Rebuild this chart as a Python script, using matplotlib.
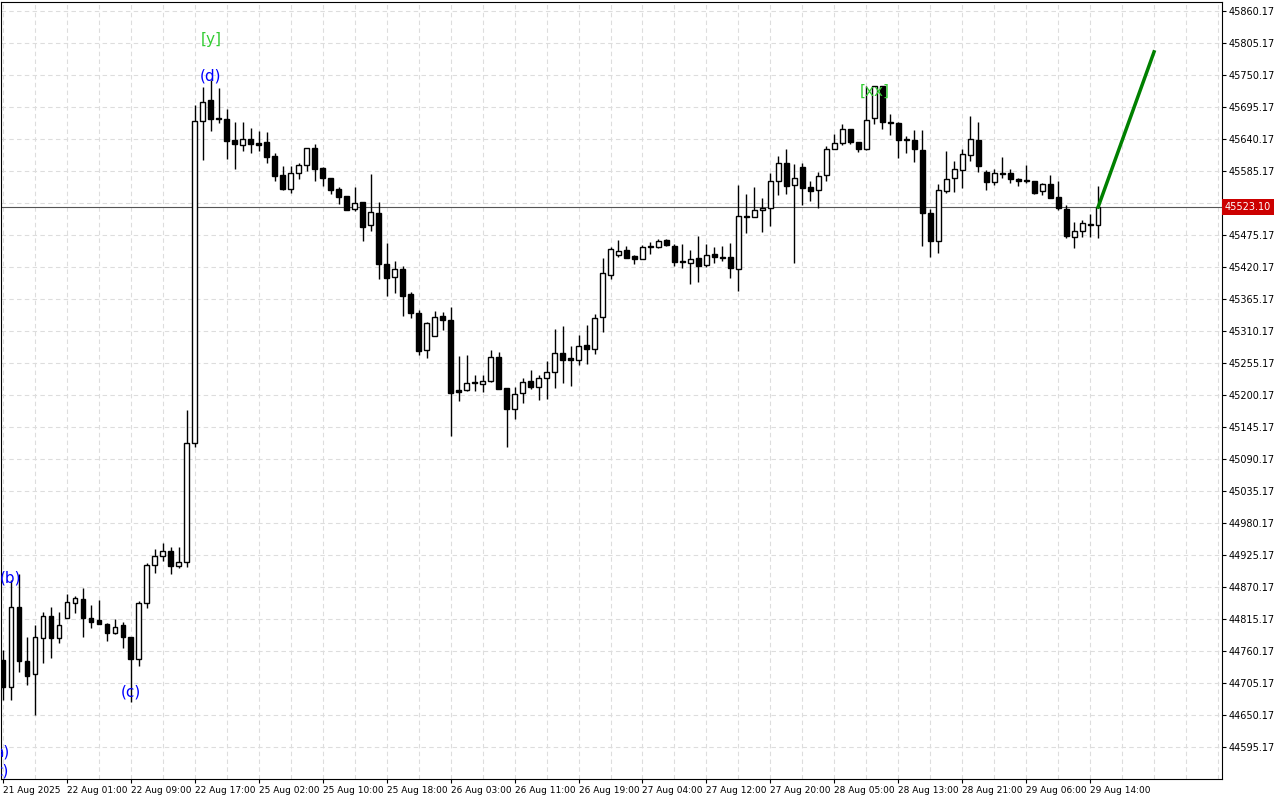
import numpy as np
import matplotlib.pyplot as plt

# hourly candles
opens = [44745, 44698, 44836, 44743, 44721, 44782, 44820, 44782, 44817, 44843, 44849, 44817, 44813, 44806, 44791, 44805,
         44784, 44746, 44843, 44908, 44923, 44932, 44906, 44913, 45118, 45671, 45707, 45676, 45675, 45638, 45630, 45640,
         45633, 45635, 45611, 45578, 45554, 45582, 45595, 45625, 45590, 45573, 45554, 45542, 45520, 45532, 45492, 45513,
         45425, 45403, 45417, 45374, 45341, 45277, 45302, 45336, 45329, 45209, 45209, 45221, 45219, 45224, 45265, 45212,
         45176, 45204, 45224, 45214, 45229, 45240, 45272, 45264, 45260, 45286, 45279, 45334, 45406, 45441, 45449, 45439,
         45434, 45454, 45454, 45467, 45456, 45430, 45427, 45436, 45424, 45442, 45437, 45437, 45417, 45508, 45506, 45518,
         45522, 45568, 45599, 45561, 45592, 45558, 45552, 45578, 45623, 45633, 45657, 45635, 45623, 45676, 45731, 45669,
         45668, 45638, 45638, 45621, 45513, 45465, 45551, 45573, 45587, 45613, 45638, 45583, 45566, 45582, 45582, 45571,
         45568, 45568, 45551, 45563, 45540, 45520, 45472, 45482, 45492, 45492]
highs = [44762, 44882, 44892, 44784, 44805, 44827, 44836, 44827, 44858, 44855, 44868, 44839, 44848, 44808, 44815, 44810,
         44784, 44846, 44911, 44935, 44946, 44939, 44939, 45174, 45699, 45730, 45742, 45728, 45692, 45669, 45669, 45659,
         45654, 45652, 45616, 45594, 45594, 45599, 45625, 45631, 45592, 45573, 45558, 45542, 45558, 45532, 45580, 45532,
         45461, 45430, 45422, 45377, 45346, 45326, 45345, 45343, 45351, 45267, 45269, 45235, 45235, 45277, 45274, 45212,
         45214, 45229, 45243, 45235, 45259, 45314, 45319, 45284, 45303, 45320, 45339, 45436, 45455, 45467, 45456, 45441,
         45458, 45463, 45468, 45468, 45460, 45460, 45449, 45473, 45460, 45454, 45456, 45461, 45561, 45546, 45558, 45539,
         45582, 45611, 45623, 45597, 45599, 45568, 45583, 45628, 45649, 45666, 45657, 45635, 45731, 45731, 45731, 45683,
         45669, 45645, 45656, 45656, 45520, 45563, 45620, 45602, 45623, 45680, 45669, 45587, 45588, 45609, 45588, 45573,
         45595, 45568, 45564, 45578, 45568, 45527, 45497, 45501, 45511, 45559]
lows = [44676, 44676, 44724, 44702, 44650, 44739, 44748, 44774, 44817, 44825, 44784, 44800, 44806, 44777, 44789, 44765,
        44672, 44734, 44834, 44894, 44915, 44892, 44903, 44904, 45110, 45604, 45654, 45668, 45606, 45588, 45620, 45616,
        45620, 45599, 45568, 45552, 45547, 45571, 45585, 45568, 45559, 45546, 45528, 45518, 45516, 45465, 45482, 45400,
        45370, 45375, 45336, 45332, 45269, 45264, 45302, 45312, 45130, 45190, 45207, 45207, 45205, 45222, 45210, 45111,
        45159, 45186, 45210, 45192, 45193, 45212, 45221, 45216, 45252, 45253, 45271, 45308, 45400, 45437, 45436, 45425,
        45434, 45442, 45453, 45456, 45422, 45418, 45391, 45394, 45420, 45427, 45430, 45401, 45379, 45479, 45506, 45480,
        45491, 45544, 45546, 45427, 45527, 45534, 45522, 45568, 45623, 45630, 45632, 45618, 45621, 45666, 45657, 45647,
        45607, 45616, 45601, 45456, 45437, 45444, 45547, 45549, 45556, 45602, 45583, 45552, 45561, 45573, 45564, 45559,
        45564, 45546, 45544, 45539, 45518, 45470, 45453, 45472, 45472, 45470]
closes = [44698, 44836, 44743, 44717, 44784, 44820, 44782, 44805, 44844, 44851, 44817, 44810, 44806, 44791, 44801, 44784,
          44746, 44843, 44908, 44923, 44932, 44906, 44913, 45118, 45671, 45704, 45675, 45675, 45637, 45632, 45640, 45632,
          45630, 45609, 45576, 45554, 45582, 45595, 45625, 45588, 45573, 45552, 45540, 45518, 45530, 45489, 45515, 45425,
          45401, 45417, 45370, 45341, 45276, 45324, 45334, 45329, 45204, 45205, 45221, 45221, 45224, 45265, 45210, 45176,
          45202, 45222, 45214, 45229, 45240, 45272, 45260, 45260, 45284, 45279, 45332, 45410, 45451, 45448, 45436, 45434,
          45454, 45454, 45465, 45458, 45429, 45429, 45434, 45422, 45441, 45437, 45436, 45418, 45508, 45506, 45518, 45522,
          45568, 45599, 45559, 45573, 45556, 45551, 45576, 45623, 45633, 45657, 45635, 45623, 45673, 45731, 45669, 45668,
          45638, 45638, 45623, 45513, 45465, 45552, 45571, 45588, 45614, 45640, 45594, 45566, 45582, 45580, 45571, 45568,
          45568, 45547, 45563, 45539, 45522, 45473, 45482, 45496, 45492, 45523.10]

date_labels = ["21 Aug 2025", "22 Aug 01:00", "22 Aug 09:00", "22 Aug 17:00", "25 Aug 02:00", "25 Aug 10:00",
               "25 Aug 18:00", "26 Aug 03:00", "26 Aug 11:00", "26 Aug 19:00", "27 Aug 04:00", "27 Aug 12:00",
               "27 Aug 20:00", "28 Aug 05:00", "28 Aug 13:00", "28 Aug 21:00", "29 Aug 06:00", "29 Aug 14:00"]
price_ticks = [45860.17 - 55 * k for k in range(24)]

# wave labels: (candle index, price, text, colour)
wave_marks = [(1, 44885, "(b)", "blue"), (16, 44690, "(c)", "blue"), (26, 45748, "(d)", "blue"),
              (26, 45812, "[y]", "#33cc33"), (109, 45722, "[xx]", "#33cc33"),
              (-0.2, 44586, "a)", "blue"), (-0.2, 44554, "c)", "blue")]
forecast_x = [137, 144]
forecast_y = [45523.10, 45790]
last_price = 45523.10

fig = plt.figure(figsize=(12.8, 8), dpi=100)
ax = fig.add_axes([1 / 1280, 21 / 800, 1221 / 1280, 777 / 800])

n = len(closes)
idx = np.arange(n)
for i in idx:
    o, h, l, c = opens[i], highs[i], lows[i], closes[i]
    ax.vlines(i, l, h, color="black", linewidth=1, zorder=2)
    up = c >= o
    bottom = min(o, c)
    height = max(abs(c - o), 1.5)
    ax.bar(i, height, bottom=bottom, width=0.6, facecolor="white" if up else "black",
           edgecolor="black", linewidth=1, zorder=3)

ax.plot(forecast_x, forecast_y, color="green", linewidth=2.5, zorder=4)
ax.axhline(last_price, color="#555555", linewidth=0.8, zorder=1)

for x, y, t, col in wave_marks:
    ax.text(x, y, t, color=col, fontsize=11, ha="center", va="center", zorder=5, clip_on=True)

ax.set_xlim(-0.25, 152.5)
ax.set_ylim(44540, 45875.7)

ax.set_xticks(np.arange(0, n, 8))
ax.set_xticklabels(date_labels, fontsize=6.5, ha="left")
ax.set_xticks(np.arange(0, 153, 4), minor=True)
ax.tick_params(axis="x", which="major", length=3, pad=2)
ax.tick_params(axis="x", which="minor", length=0)

ax.yaxis.tick_right()
ax.set_yticks(price_ticks)
ax.set_yticklabels([f"{p:.2f}" for p in price_ticks], fontsize=7)
ax.tick_params(axis="y", length=3, pad=2)

ax.grid(True, which="both", color="#dddddd", linestyle=(0, (4, 3)), linewidth=0.8)
ax.set_axisbelow(True)

ax.text(1.002, last_price, f"{last_price:.2f}", transform=ax.get_yaxis_transform(), fontsize=7,
        color="white", va="center", ha="left", zorder=10,
        bbox=dict(boxstyle="square,pad=0.3", facecolor="#cc0000", edgecolor="none"))

for s in ax.spines.values():
    s.set_color("black")

fig.savefig("out.png", dpi=100)
